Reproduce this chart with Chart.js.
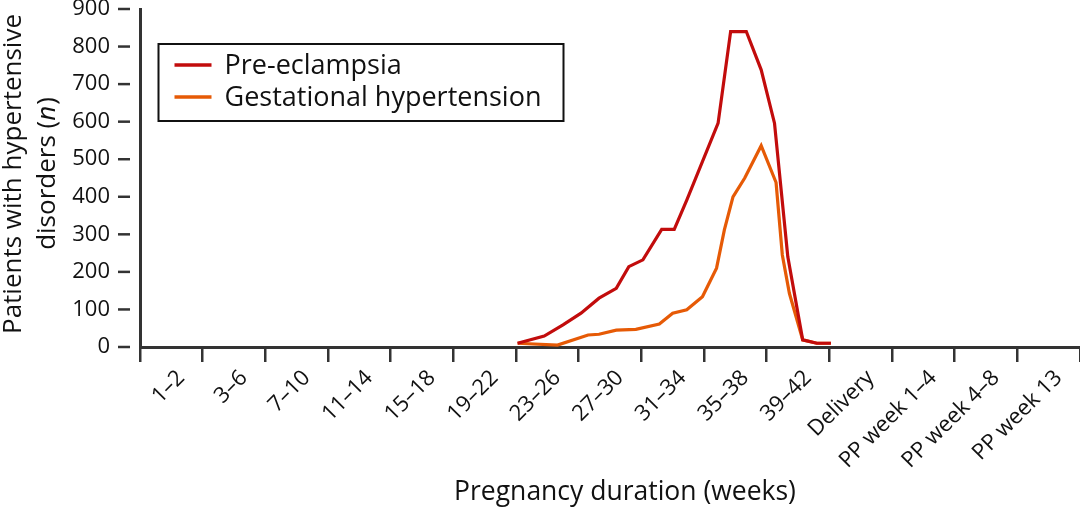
<!DOCTYPE html>
<html>
<head>
<meta charset="utf-8">
<script src="https://cdn.jsdelivr.net/npm/chart.js@4.4.1/dist/chart.umd.min.js"></script>
<style>
  html, body { margin: 0; padding: 0; background: #fff; }
  #wrap { width: 1080px; height: 512px; }
</style>
</head>
<body>
<div id="wrap"><canvas id="chart" width="1080" height="512"></canvas></div>
<script>
// x axis categories (each one spans 4 weeks on the week scale)
const categories = ['1–2', '3–6', '7–10', '11–14', '15–18', '19–22', '23–26', '27–30',
  '31–34', '35–38', '39–42', 'Delivery', 'PP week 1–4', 'PP week 4–8', 'PP week 13'];

// pre-eclampsia, week -> patients
const preWeeks  = [22.1, 23.8, 25.0, 26.15, 27.3, 28.4, 29.2, 30.1, 31.3, 32.1, 32.9,
  34.9, 35.7, 36.7, 37.65, 38.5, 39.35, 40.3, 41.2, 42.1];
const preValues = [10, 29, 59, 90, 130, 156, 214, 232, 313, 313, 391,
  596, 840, 840, 738, 596, 240, 19, 10, 10];

// gestational hypertension, week -> patients
const ghWeeks  = [22.1, 24.65, 26.6, 27.3, 28.4, 29.65, 31.15, 32.0, 32.9, 33.9, 34.8,
  35.3, 35.85, 36.6, 37.65, 38.6, 39.0, 39.45, 40.3, 41.2, 42.1];
const ghValues = [10, 5, 32, 34, 45, 47, 61, 90, 99, 134, 210,
  312, 400, 450, 536, 438, 245, 143, 19, 10, 10];

const yMax = 900;
const yStep = 100;

const FONT = '"Open Sans"';
const INK = '#111';
const AXIS = '#333';

const toPoints = (xs, ys) => xs.map((x, i) => ({ x: x, y: ys[i] }));

// extra drawing: y tick dashes, framed legend, axis titles
const decor = {
  id: 'decor',
  afterDraw(chart) {
    const { ctx, chartArea: a, scales } = chart;
    const y = scales.y;
    ctx.save();

    // y tick dashes, detached from the axis line
    ctx.strokeStyle = AXIS;
    ctx.lineWidth = 2.5;
    y.ticks.forEach(t => {
      const py = y.getPixelForValue(t.value);
      ctx.beginPath();
      ctx.moveTo(a.left - 22, py);
      ctx.lineTo(a.left - 10, py);
      ctx.stroke();
    });

    // legend box
    const bx = a.left + 18.5, by = a.top + 35, bw = 405, bh = 77;
    ctx.lineWidth = 2;
    ctx.strokeStyle = INK;
    ctx.strokeRect(bx, by, bw, bh);
    ctx.font = '27px ' + FONT;
    ctx.textBaseline = 'middle';
    ctx.textAlign = 'left';
    ctx.fillStyle = INK;
    chart.data.datasets.forEach((ds, i) => {
      const ly = by + 21 + i * 32;
      ctx.strokeStyle = ds.borderColor;
      ctx.lineWidth = 3.5;
      ctx.beginPath();
      ctx.moveTo(bx + 16, ly);
      ctx.lineTo(bx + 53, ly);
      ctx.stroke();
      ctx.fillText(ds.label, bx + 66, ly + 1);
    });

    // x title
    ctx.font = '26.5px ' + FONT;
    ctx.textBaseline = 'alphabetic';
    ctx.textAlign = 'center';
    ctx.fillText('Pregnancy duration (weeks)', (a.left + a.right) / 2 + 15, 500);

    // y title, two lines, italic n
    const yf = '26px ' + FONT;
    const cy = (a.top + a.bottom) / 2 - 4;
    ctx.font = yf;
    ctx.translate(21, cy);
    ctx.rotate(-Math.PI / 2);
    ctx.fillText('Patients with hypertensive', 0, 0);
    const p1 = 'disorders (', p2 = 'n', p3 = ')';
    ctx.textAlign = 'left';
    const w1 = ctx.measureText(p1).width;
    const w3 = ctx.measureText(p3).width;
    ctx.font = 'italic ' + yf;
    const w2 = ctx.measureText(p2).width;
    const x0 = -(w1 + w2 + w3) / 2;
    ctx.font = yf;
    ctx.fillText(p1, x0, 34);
    ctx.font = 'italic ' + yf;
    ctx.fillText(p2, x0 + w1, 34);
    ctx.font = yf;
    ctx.fillText(p3, x0 + w1 + w2 + 1, 34);

    ctx.restore();
  }
};

const chart = new Chart(document.getElementById('chart').getContext('2d'), {
  type: 'line',
  data: {
    labels: categories,
    datasets: [
      {
        label: 'Pre-eclampsia',
        data: toPoints(preWeeks, preValues),
        xAxisID: 'weeks',
        borderColor: '#c20c0c',
        borderWidth: 3.2,
        pointRadius: 0,
        tension: 0
      },
      {
        label: 'Gestational hypertension',
        data: toPoints(ghWeeks, ghValues),
        xAxisID: 'weeks',
        borderColor: '#e65a06',
        borderWidth: 3.2,
        pointRadius: 0,
        tension: 0
      }
    ]
  },
  options: {
    responsive: false,
    animation: false,
    devicePixelRatio: 1,
    layout: { padding: { top: 9, left: 0, right: 0, bottom: 0 } },
    plugins: {
      legend: { display: false },
      tooltip: { enabled: false }
    },
    scales: {
      x: {
        type: 'category',
        offset: true,
        grid: { offset: true, drawOnChartArea: false, tickLength: 15, color: AXIS, lineWidth: 2.5 },
        border: { color: AXIS, width: 3 },
        ticks: {
          autoSkip: false, minRotation: 45, maxRotation: 45, labelOffset: 10,
          color: INK, font: { family: FONT, size: 22 }, padding: 3
        },
        afterFit(s) { s.height = 165; s.paddingLeft = 0; s.paddingRight = 0; }
      },
      // week scale used by the lines: 15 categories x 4 weeks, starting at week -2
      weeks: {
        type: 'linear',
        position: 'bottom',
        display: false,
        min: -2,
        max: 58
      },
      y: {
        min: 0,
        max: yMax,
        ticks: { stepSize: yStep, color: INK, font: { family: FONT, size: 22 }, padding: 30 },
        grid: { drawOnChartArea: false, drawTicks: false },
        border: { color: AXIS, width: 3 },
        afterFit(s) { s.width = 140; s.paddingTop = 0; s.paddingBottom = 0; }
      }
    }
  },
  plugins: [decor]
});
</script>
</body>
</html>
